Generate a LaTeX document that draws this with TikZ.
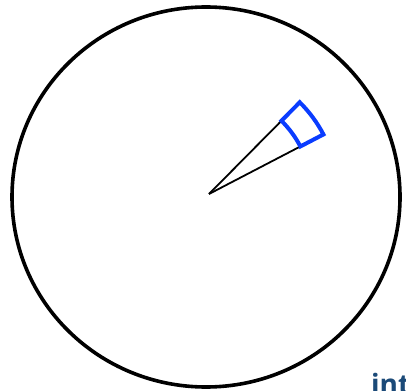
\documentclass[tikz,border=0pt]{standalone}
\usepackage{fontspec}
\usetikzlibrary{calc}
\newfontfamily\wmfont{Open Sans}
\definecolor{secblue}{HTML}{0A3CFF}
\definecolor{wmblue}{HTML}{1B4A78}
\begin{document}
\begin{tikzpicture}[x=1pt,y=-1pt,
  rim/.style={line width=3.6pt,black},
  ray/.style={line width=1.8pt,black},
  sector/.style={line width=4pt,secblue,line join=miter}]
\useasboundingbox (0,0) rectangle (406,390);
\draw[rim] (206,197) ellipse [x radius=194, y radius=190];
\coordinate (O) at (209,194);
\coordinate (A) at ($(O)+(-45.3:103)$);
\coordinate (B) at ($(O)+(-27.5:103)$);
\coordinate (C) at ($(O)+(-27.5:129)$);
\draw[ray] (O) -- (A);
\draw[ray] (O) -- (B);
\draw[sector] (A) arc[start angle=-45.3, end angle=-27.5, radius=103]
  -- (C) arc[start angle=-27.5, end angle=-45.3, radius=129] -- cycle;
\node[anchor=base west,inner sep=0pt,text=wmblue,font=\wmfont\bfseries\fontsize{28}{28}\selectfont] (wm) at (371,394) {int};
\end{tikzpicture}
\end{document}
